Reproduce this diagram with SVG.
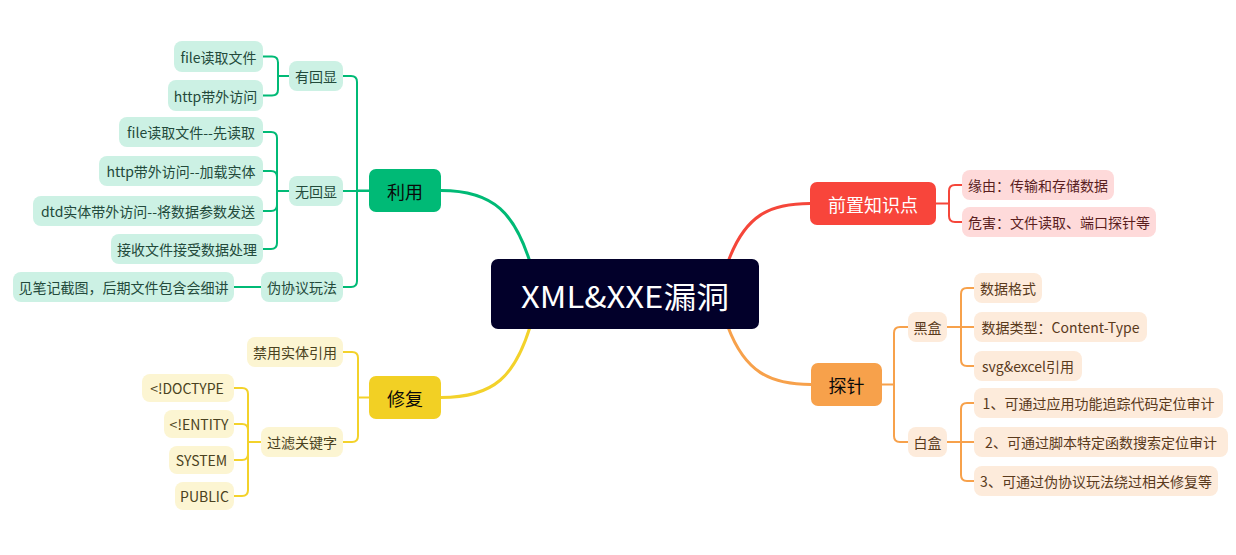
<svg xmlns="http://www.w3.org/2000/svg" width="1236" height="555" viewBox="0 0 1236 555">
<style>
text{font-family:"Noto Sans CJK SC","Noto Sans",sans-serif;text-anchor:middle;dominant-baseline:central}
.c{fill:none;stroke-width:2;stroke-linejoin:round;stroke-linecap:round}
.m{fill:none;stroke-width:3;stroke-linecap:round}
.g{stroke:#00BA76}.y{stroke:#F3D22B}.r{stroke:#F5463A}.o{stroke:#F7A14B}
.gl{fill:#CCF1E4}.yl{fill:#FCF5D2}.rl{fill:#FEDADA}.ol{fill:#FDEBDB}
.t{font-size:14px}
.gt{fill:#234A3B}.yt{fill:#4A4220}.rt{fill:#5A1E1E}.ot{fill:#5A3A1C}
.b{font-size:18px}
</style>
<g id="connectors">
<path class="m g" d="M441,190.5 C495,190.5 515,215 530,262"/>
<path class="m y" d="M441,397.5 C495,397.5 515,375 530,327"/>
<path class="m r" d="M728,262 C745,215 770,203.5 810,203.5"/>
<path class="m o" d="M728,327 C745,372 770,384.5 811,384.5"/>
<path class="c g" d="M343,76 H351 Q357,76 357,82 V190.5 H369"/>
<path class="c g" d="M343,191 H369"/>
<path class="c g" d="M343,287 H351 Q357,287 357,281 V191"/>
<path class="c g" d="M263,56.5 H272 Q278,56.5 278,62.5 V76 H289"/>
<path class="c g" d="M263,95.5 H272 Q278,95.5 278,89.5 V76"/>
<path class="c g" d="M263,132 H271 Q277,132 277,138 V191 H289"/>
<path class="c g" d="M263,171 H271 Q277,171 277,177 V191"/>
<path class="c g" d="M263,211 H271 Q277,211 277,205 V191"/>
<path class="c g" d="M263,249 H271 Q277,249 277,243 V191"/>
<path class="c g" d="M234,287 H261"/>
<path class="c y" d="M343,352 H352 Q358,352 358,358 V397.5 H369"/>
<path class="c y" d="M343,442 H352 Q358,442 358,436 V397.5"/>
<path class="c y" d="M234,388 H242 Q248,388 248,394 V442 H261"/>
<path class="c y" d="M234,424 H242 Q248,424 248,430 V442"/>
<path class="c y" d="M234,460 H242 Q248,460 248,454 V442"/>
<path class="c y" d="M234,496 H242 Q248,496 248,490 V442"/>
<path class="c r" d="M962,185 H955 Q949,185 949,191 V203.5 H936"/>
<path class="c r" d="M962,222 H955 Q949,222 949,216 V203.5"/>
<path class="c o" d="M908,327 H900 Q894,327 894,333 V384.5 H882"/>
<path class="c o" d="M908,442 H900 Q894,442 894,436 V384.5"/>
<path class="c o" d="M974,288 H967 Q961,288 961,294 V327 H947"/>
<path class="c o" d="M974,366 H967 Q961,366 961,360 V327"/>
<path class="c o" d="M974,327 H961"/>
<path class="c o" d="M974,403 H967 Q961,403 961,409 V442 H947"/>
<path class="c o" d="M974,481 H967 Q961,481 961,475 V442"/>
<path class="c o" d="M974,442 H961"/>
</g>
<g id="center"><rect x="491" y="259" width="268" height="70" rx="7" fill="#02002A"/><text x="625" y="295" font-size="30" fill="#FFFFFF" textLength="208" lengthAdjust="spacingAndGlyphs">XML&amp;XXE漏洞</text></g>
<g id="liyong"><rect x="369" y="169" width="72" height="43" rx="7" fill="#00BA76"/><text class="b" x="405" y="190.5" fill="#0A0A0A">利用</text></g>
<g id="youhuixian"><rect class="gl" x="289" y="61" width="54" height="30" rx="8"/><text class="t gt" x="316" y="76">有回显</text></g>
<g id="y1"><rect class="gl" x="174" y="41" width="89" height="31" rx="8"/><text class="t gt" x="218.5" y="56.5">file读取文件</text></g>
<g id="y2"><rect class="gl" x="168" y="80" width="95" height="31" rx="8"/><text class="t gt" x="215.5" y="95.5">http带外访问</text></g>
<g id="wuhuixian"><rect class="gl" x="289" y="176" width="54" height="30" rx="8"/><text class="t gt" x="316" y="191">无回显</text></g>
<g id="w1"><rect class="gl" x="119" y="117" width="144" height="30" rx="8"/><text class="t gt" x="191" y="132">file读取文件--先读取</text></g>
<g id="w2"><rect class="gl" x="99" y="156" width="164" height="30" rx="8"/><text class="t gt" x="181" y="171">http带外访问--加载实体</text></g>
<g id="w3"><rect class="gl" x="33" y="196" width="230" height="30" rx="8"/><text class="t gt" x="148" y="211">dtd实体带外访问--将数据参数发送</text></g>
<g id="w4"><rect class="gl" x="111" y="234" width="152" height="30" rx="8"/><text class="t gt" x="187" y="249">接收文件接受数据处理</text></g>
<g id="weixieyi"><rect class="gl" x="261" y="272" width="82" height="30" rx="8"/><text class="t gt" x="302" y="287">伪协议玩法</text></g>
<g id="p1"><rect class="gl" x="13" y="272" width="221" height="30" rx="8"/><text class="t gt" x="123.5" y="287">见笔记截图，后期文件包含会细讲</text></g>
<g id="xiufu"><rect x="369" y="376" width="72" height="43" rx="7" fill="#F2D024"/><text class="b" x="405" y="397.5" fill="#0A0A0A">修复</text></g>
<g id="jinyong"><rect class="yl" x="247" y="337" width="96" height="30" rx="8"/><text class="t yt" x="295" y="352">禁用实体引用</text></g>
<g id="guolv"><rect class="yl" x="261" y="427" width="82" height="30" rx="8"/><text class="t yt" x="302" y="442">过滤关键字</text></g>
<g id="k1"><rect class="yl" x="142" y="374" width="92" height="28" rx="8"/><text class="t yt" x="187" y="388">&lt;!DOCTYPE</text></g>
<g id="k2"><rect class="yl" x="164" y="410" width="70" height="28" rx="8"/><text class="t yt" x="199" y="424">&lt;!ENTITY</text></g>
<g id="k3"><rect class="yl" x="169" y="446" width="65" height="28" rx="8"/><text class="t yt" x="201.5" y="460">SYSTEM</text></g>
<g id="k4"><rect class="yl" x="175" y="482" width="59" height="28" rx="8"/><text class="t yt" x="204.5" y="496">PUBLIC</text></g>
<g id="qianzhi"><rect x="810" y="182" width="126" height="43" rx="7" fill="#F8453B"/><text class="b" x="873" y="203.5" fill="#FFFFFF">前置知识点</text></g>
<g id="q1"><rect class="rl" x="962" y="170" width="152" height="30" rx="8"/><text class="t rt" x="1038" y="185">缘由：传输和存储数据</text></g>
<g id="q2"><rect class="rl" x="962" y="207" width="194" height="30" rx="8"/><text class="t rt" x="1059" y="222">危害：文件读取、端口探针等</text></g>
<g id="tanzhen"><rect x="811" y="363" width="71" height="43" rx="7" fill="#F7A14B"/><text class="b" x="846.5" y="384.5" fill="#0A0A0A">探针</text></g>
<g id="heihe"><rect class="ol" x="908" y="312" width="39" height="30" rx="8"/><text class="t ot" x="927.5" y="327">黑盒</text></g>
<g id="h1"><rect class="ol" x="974" y="273" width="68" height="30" rx="8"/><text class="t ot" x="1008" y="288">数据格式</text></g>
<g id="h2"><rect class="ol" x="974" y="312" width="173" height="30" rx="8"/><text class="t ot" x="1060.5" y="327">数据类型：Content-Type</text></g>
<g id="h3"><rect class="ol" x="974" y="351" width="108" height="30" rx="8"/><text class="t ot" x="1028" y="366">svg&amp;excel引用</text></g>
<g id="baihe"><rect class="ol" x="908" y="427" width="39" height="30" rx="8"/><text class="t ot" x="927.5" y="442">白盒</text></g>
<g id="b1"><rect class="ol" x="974" y="388" width="249" height="30" rx="8"/><text class="t ot" x="1098.5" y="403">1、可通过应用功能追踪代码定位审计</text></g>
<g id="b2"><rect class="ol" x="974" y="427" width="254" height="30" rx="8"/><text class="t ot" x="1101" y="442">2、可通过脚本特定函数搜索定位审计</text></g>
<g id="b3"><rect class="ol" x="974" y="466" width="244" height="30" rx="8"/><text class="t ot" x="1096" y="481">3、可通过伪协议玩法绕过相关修复等</text></g>
</svg>
